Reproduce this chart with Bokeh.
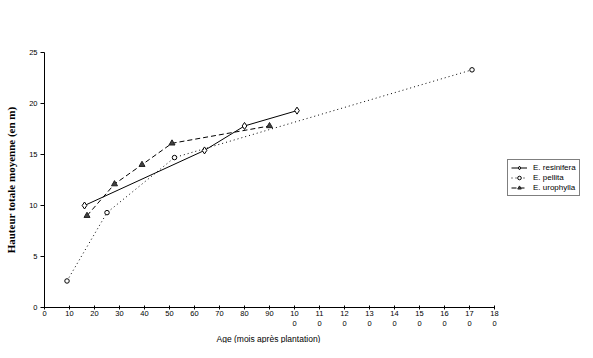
from bokeh.plotting import figure
from bokeh.models import Range1d, FixedTicker, Legend, LegendItem, Title
from bokeh.embed import file_html
from bokeh.resources import INLINE

# Data
age_resinifera = [16, 64, 80, 101]
h_resinifera = [10.0, 15.4, 17.8, 19.3]

age_pellita = [9, 25, 52, 171]
h_pellita = [2.6, 9.3, 14.7, 23.3]

age_urophylla = [17, 28, 39, 51, 90]
h_urophylla = [9.0, 12.1, 14.0, 16.1, 17.8]

x_ticks = list(range(0, 181, 10))
y_ticks = [0, 5, 10, 15, 20, 25]
x_tick_labels = {t: (str(t) if t < 100 else str(t)[:2] + "\n" + str(t)[2:]) for t in x_ticks}

# frame extends right of 180 to host the legend; the axis is bounded to 0..180
p = figure(frame_width=540, frame_height=255,
           x_range=Range1d(0, 216), y_range=Range1d(0, 25),
           output_backend="svg", toolbar_location=None,
           min_border_left=44, min_border_top=52, min_border_right=0,
           min_border_bottom=20)
p.outline_line_color = None
p.grid.visible = False

tick_font = "Liberation Sans"
p.xaxis.ticker = FixedTicker(ticks=x_ticks)
p.xaxis.bounds = (0, 180)
p.yaxis.ticker = FixedTicker(ticks=y_ticks)
p.xaxis.major_label_overrides = x_tick_labels
for ax in (p.xaxis[0], p.yaxis[0]):
    ax.minor_tick_line_color = None
    ax.axis_line_color = "black"
    ax.major_tick_line_color = "black"
    ax.major_label_text_font = tick_font
    ax.major_label_text_font_size = "7.5px"
    ax.major_label_text_color = "black"
p.xaxis.major_tick_in = 2
p.xaxis.major_tick_out = 2
p.xaxis.major_label_standoff = -1
p.yaxis.major_tick_in = 0
p.yaxis.major_tick_out = 4
p.yaxis.major_label_standoff = 3

xtitle = Title(text="Age (mois après plantation)", align="left", offset=172,
               text_font=tick_font, text_font_size="8.5px",
               text_font_style="normal", text_color="black", standoff=0)
p.add_layout(xtitle, "below")

p.yaxis.axis_label = "Hauteur totale moyenne (en m)"
p.yaxis.axis_label_text_font = "Liberation Serif"
p.yaxis.axis_label_text_font_size = "11px"
p.yaxis.axis_label_text_font_style = "bold"
p.yaxis.axis_label_text_color = "black"
p.yaxis.axis_label_standoff = 9

r1 = p.line(age_resinifera, h_resinifera, line_color="black", line_width=1)
m1 = p.scatter(age_resinifera, h_resinifera, marker="diamond", size=7,
               fill_color="white", line_color="black", line_width=1)

r2 = p.line(age_pellita, h_pellita, line_color="black", line_width=1, line_dash="1 3")
m2 = p.scatter(age_pellita, h_pellita, marker="circle", size=4.5,
               fill_color="white", line_color="black", line_width=1)

r3 = p.line(age_urophylla, h_urophylla, line_color="black", line_width=1, line_dash="5 3")
m3 = p.scatter(age_urophylla, h_urophylla, marker="triangle", size=6,
               fill_color="#404040", line_color="#202020", line_width=1)

legend = Legend(items=[
    LegendItem(label="E. resinifera", renderers=[r1, m1]),
    LegendItem(label="E. pellita", renderers=[r2, m2]),
    LegendItem(label="E. urophylla", renderers=[r3, m3]),
], location=(463, 111))
legend.label_text_font = tick_font
legend.label_text_font_size = "8px"
legend.label_text_color = "black"
legend.glyph_width = 16
legend.glyph_height = 9
legend.label_height = 9
legend.label_standoff = 6
legend.spacing = 1
legend.padding = 3
legend.margin = 0
legend.border_line_color = "black"
legend.border_line_width = 1
legend.background_fill_alpha = 1
p.add_layout(legend)

open("out.html", "w").write(file_html(p, INLINE))
